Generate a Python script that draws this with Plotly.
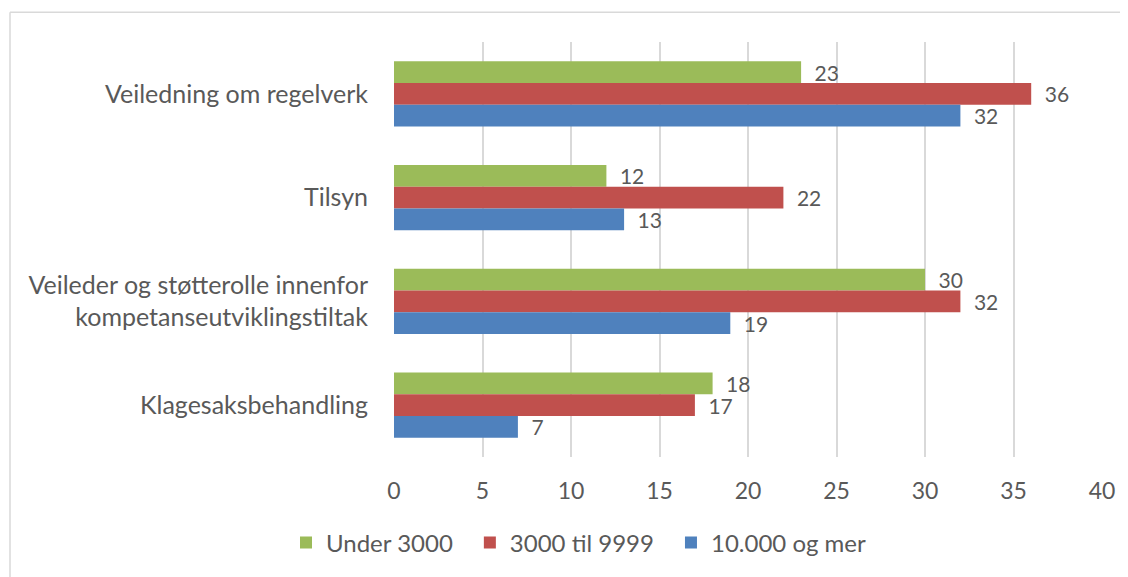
import plotly.graph_objects as go

categories = ["Veiledning om regelverk", "Tilsyn",
              "Veileder og støtterolle innenfor<br>kompetanseutviklingstiltak",
              "Klagesaksbehandling"]
under_3000 = [23, 12, 30, 18]
til_9999 = [36, 22, 32, 17]
over_10000 = [32, 13, 19, 7]
series_names = ["Under 3000", "3000 til 9999", "10.000 og mer"]
colors = ["#9BBB59", "#C0504D", "#4F81BD"]
x_ticks = [0, 5, 10, 15, 20, 25, 30, 35, 40]

font_family = "Lato, 'Open Sans', sans-serif"
text_color = "#595959"

fig = go.Figure()
for name, vals, col in zip(series_names, [under_3000, til_9999, over_10000], colors):
    fig.add_trace(go.Bar(
        # trailing en space widens the gap between legend entries
        name=name + "\u2002", y=categories, x=vals, orientation="h",
        marker=dict(color=col, line=dict(width=0)),
        text=vals, texttemplate="\u2002%{x}", textposition="outside",
        constraintext="none", cliponaxis=False,
        textfont=dict(size=21, color=text_color, family=font_family),
    ))

# page body adds 8px margin, so the figure is drawn 8px in from the top-left
off = 8
W, H = 1128 - off, 577 - off
ml, mr, mt, mb = 394 - off, 26, 42 - off, 577 - 462
pw, ph = W - ml - mr, H - mt - mb


def px_x(p):
    return (p - off - ml) / pw


def px_y(p):
    return (H - mb - (p - off)) / ph


fig.update_layout(
    width=W, height=H,
    margin=dict(l=ml, r=mr, t=mt, b=mb),
    paper_bgcolor="white", plot_bgcolor="white",
    barmode="group", bargap=0.37, bargroupgap=0,
    font=dict(family=font_family, size=23, color=text_color),
    xaxis=dict(range=[0, 40], tickvals=x_ticks, showgrid=True, gridcolor="#D9D9D9",
               gridwidth=1.5, zeroline=False, showline=False, ticks="",
               ticklabelstandoff=18, tickfont=dict(size=23, color=text_color)),
    yaxis=dict(autorange="reversed", showgrid=False, zeroline=False, ticks="",
               ticklabelstandoff=25, tickfont=dict(size=25, color=text_color)),
    legend=dict(orientation="h", x=px_x(286), xanchor="left", y=px_y(549),
                yanchor="middle", font=dict(size=24, color=text_color),
                traceorder="normal"),
    shapes=[
        dict(type="line", xref="paper", yref="paper", x0=px_x(10), x1=px_x(1140),
             y0=px_y(12), y1=px_y(12), line=dict(color="#D9D9D9", width=1.5)),
        dict(type="line", xref="paper", yref="paper", x0=px_x(10), x1=px_x(10),
             y0=px_y(12), y1=px_y(590), line=dict(color="#D9D9D9", width=1.5)),
    ],
)

fig.write_html("out.html")
